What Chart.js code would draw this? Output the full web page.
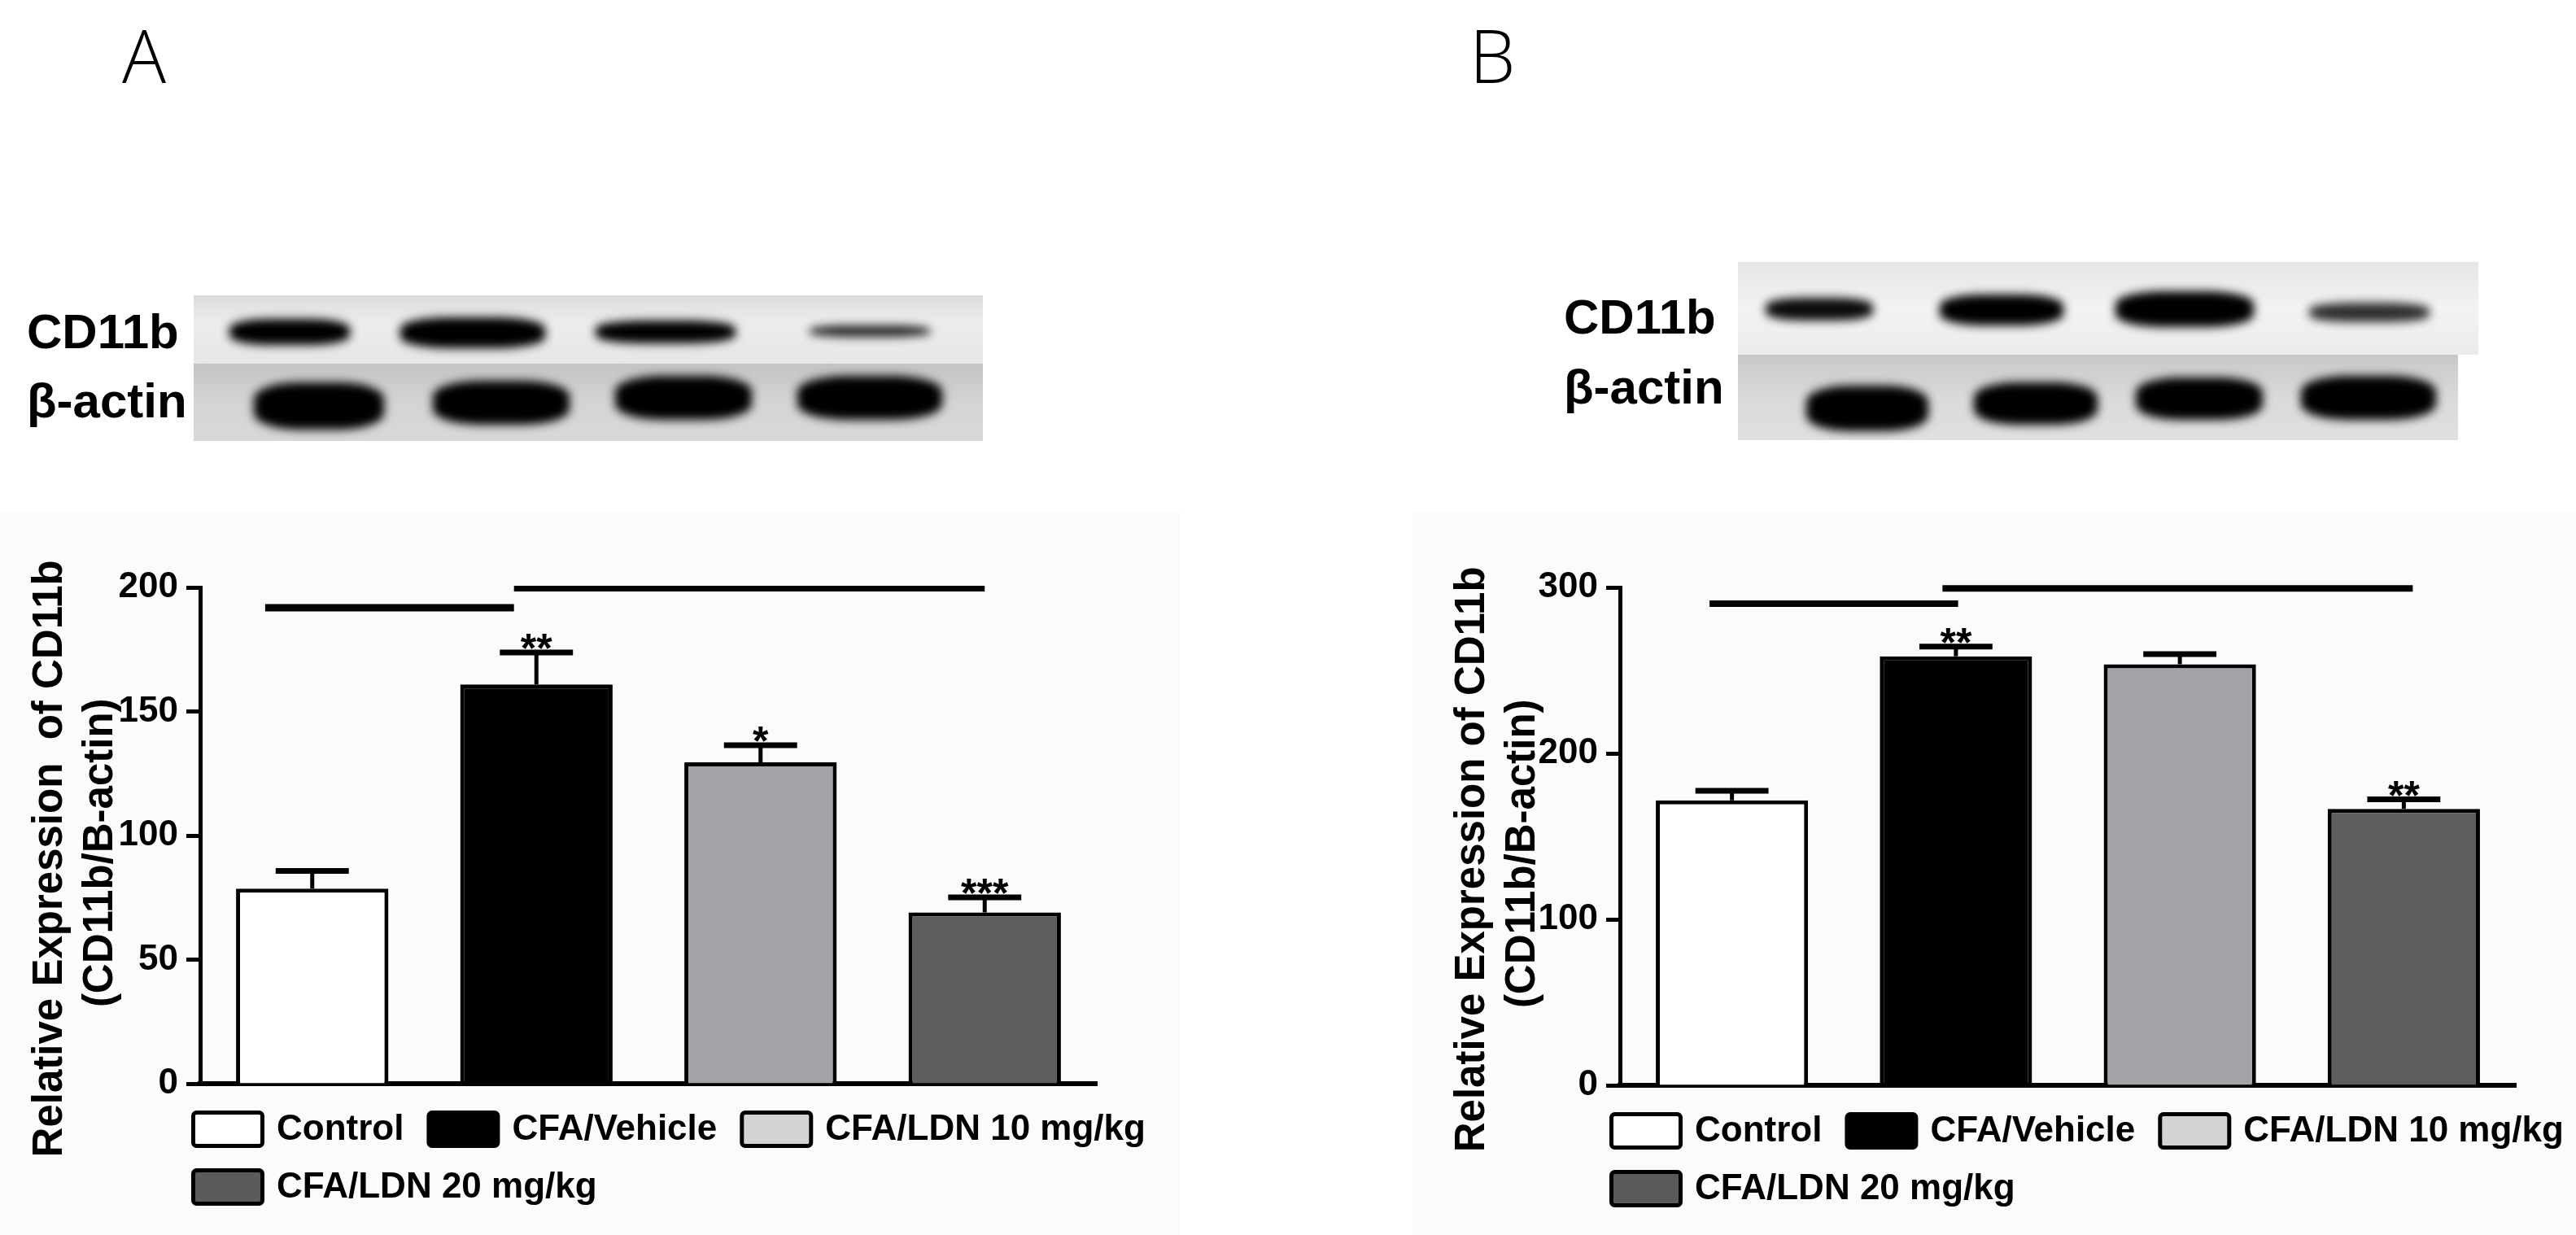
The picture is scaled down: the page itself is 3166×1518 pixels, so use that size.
<!DOCTYPE html>
<html><head><meta charset="utf-8">
<script src="https://cdn.jsdelivr.net/npm/chart.js@4.4.1/dist/chart.umd.min.js"></script>
<style>
html,body{margin:0;padding:0;background:#fff;}
body{width:3166px;height:1518px;position:relative;overflow:hidden;}
.letter{position:absolute;font-family:'Open Sans','Noto Sans',sans-serif;font-weight:300;font-size:90px;line-height:1;color:#000;}
.bg{position:absolute;background:#fbfbfb;}
.strip{position:absolute;overflow:hidden;}
.band{position:absolute;background:#000;border-radius:35%;filter:blur(6px);}
.blabel{position:absolute;font-family:'Liberation Sans',sans-serif;font-weight:bold;font-size:60px;line-height:1;color:#000;}
canvas{position:absolute;}
</style></head>
<body>
<div class="bg" style="left:0;top:630px;width:1450px;height:888px;"></div>
<div class="bg" style="left:1737px;top:628px;width:1429px;height:890px;"></div>
<div class="letter" style="left:150px;top:22px;">A</div>
<div class="letter" style="left:1806px;top:22px;">B</div>
<div id="blots"></div>
<canvas id="cA" width="1600" height="918" style="left:0;top:600px;"></canvas>
<canvas id="cB" width="1466" height="918" style="left:1700px;top:600px;"></canvas>
<script>
// ---------- data ----------
const categories = ['Control', 'CFA/Vehicle', 'CFA/LDN 10 mg/kg', 'CFA/LDN 20 mg/kg'];
const barColors = ['#ffffff', '#000000', '#a3a3a7', '#5e5e5e'];
const legendColors = ['#ffffff', '#000000', '#d4d4d4', '#5a5a5a'];

const titleA = ['Relative Expression  of CD11b    ', '(CD11b/B-actin)   '];
const meanA = [78.6, 160.9, 129.5, 69.0];
const semA = [7.1, 12.9, 6.9, 6.1];
const starsA = ['', '**', '*', '***'];
const ticksA = [0, 50, 100, 150, 200];
const sigFromA = [-0.21, 0.90];
const sigToA = [0.90, 3.00];
const sigYA = [191.8, 199.5];

const titleB = ['Relative Expression of CD11b    ', '(CD11b/B-actin)   '];
const meanB = [171.7, 258.5, 253.7, 166.6];
const semB = [5.7, 5.8, 6.1, 5.7];
const starsB = ['', '**', '', '**'];
const ticksB = [0, 100, 200, 300];
const sigFromB = [-0.10, 0.94];
const sigToB = [1.01, 3.04];
const sigYB = [290.2, 299.4];

const blotLabels = ['CD11b', 'β-actin'];

// ---------- western blot decoration ----------
function addBlot(strips, labels) {
  const host = document.getElementById('blots');
  strips.forEach(s => {
    const d = document.createElement('div');
    d.className = 'strip';
    d.style.cssText = `left:${s.x}px;top:${s.y}px;width:${s.w}px;height:${s.h}px;background:${s.bg};`;
    s.bands.forEach(b => {
      const e = document.createElement('div');
      e.className = 'band';
      e.style.cssText = `left:${b[0]-s.x}px;top:${b[1]-s.y}px;width:${b[2]}px;height:${b[3]}px;opacity:${b[4]};`;
      d.appendChild(e);
    });
    host.appendChild(d);
  });
  labels.forEach((l, i) => {
    const e = document.createElement('div');
    e.className = 'blabel';
    e.textContent = blotLabels[i];
    e.style.left = l[0] + 'px'; e.style.top = l[1] + 'px';
    host.appendChild(e);
  });
}
addBlot([
  {x:238,y:363,w:970,h:84,bg:'linear-gradient(#dcdcdc,#ececec 40%,#e6e6e6)',bands:[[282,392,148,32,1],[492,390,178,38,1],[732,394,172,28,1],[995,400,148,14,0.85]]},
  {x:238,y:447,w:970,h:95,bg:'linear-gradient(#c4c4c4,#d4d4d4 50%,#d8d8d8)',bands:[[312,470,160,58,1],[532,468,168,54,1],[756,462,168,54,1],[980,462,178,54,1]]}
], [[33,378],[33,463]]);
addBlot([
  {x:2136,y:322,w:910,h:114,bg:'linear-gradient(#e6e6e6,#f2f2f2 50%,#ececec)',bands:[[2170,366,132,28,0.95],[2384,362,152,38,1],[2600,358,170,44,1],[2838,372,148,24,0.8]]},
  {x:2136,y:436,w:885,h:105,bg:'linear-gradient(#c8c8c8,#dadada 50%,#e0e0e0)',bands:[[2220,474,150,56,1],[2426,470,152,52,1],[2625,464,156,52,1],[2828,462,166,54,1]]}
], [[1922,360],[1922,446]]);

// ---------- charts ----------
const FONT = "'Liberation Sans', Arial, sans-serif";

function marksPlugin(p) {
  return {
    id: 'marks',
    afterDatasetsDraw(chart) {
      const {ctx, scales: {x, y}} = chart;
      const meta = chart.getDatasetMeta(0);
      ctx.save();
      ctx.strokeStyle = '#000'; ctx.fillStyle = '#000';
      // error bars + significance stars
      p.mean.forEach((m, i) => {
        const bar = meta.data[i];
        const cx = x.getPixelForValue(i);
        const yb = y.getPixelForValue(m);
        const yt = y.getPixelForValue(m + p.sem[i]);
        const hw = bar.width * 0.24;
        ctx.lineWidth = 5;
        ctx.beginPath(); ctx.moveTo(cx, yb); ctx.lineTo(cx, yt); ctx.stroke();
        ctx.lineWidth = 7;
        ctx.beginPath(); ctx.moveTo(cx - hw, yt); ctx.lineTo(cx + hw, yt); ctx.stroke();
        if (p.stars[i]) {
          ctx.font = 'bold 50px ' + FONT;
          ctx.textAlign = 'center'; ctx.textBaseline = 'alphabetic';
          ctx.fillText(p.stars[i], cx, yt + 12);
        }
      });
      // significance lines (category units on the x scale)
      p.sigFrom.forEach((f, k) => {
        const yy = y.getPixelForValue(p.sigY[k]);
        ctx.lineWidth = p.sigW[k];
        ctx.beginPath();
        ctx.moveTo(x.getPixelForValue(f), yy);
        ctx.lineTo(x.getPixelForValue(p.sigTo[k]), yy);
        ctx.stroke();
      });
      ctx.restore();
    }
  };
}

function legendPlugin(p) {
  return {
    id: 'boxlegend',
    afterDraw(chart) {
      const {ctx, chartArea} = chart;
      ctx.save();
      ctx.font = 'bold 44px ' + FONT;
      ctx.textBaseline = 'middle';
      const x0 = chartArea.left - p.legShift;
      let xx = x0, row = 0;
      categories.forEach((c, i) => {
        const tw = ctx.measureText(c).width;
        const w = 90 + 15 + tw;
        if (xx > x0 && xx + w > x0 + 1300) { xx = x0; row++; }
        const cy = chartArea.bottom + 56 + row * 71;
        ctx.fillStyle = legendColors[i];
        ctx.beginPath(); ctx.roundRect(xx + 2.5, cy - 20.5, 85, 41, 4); ctx.fill();
        ctx.lineWidth = 5; ctx.strokeStyle = '#000'; ctx.stroke();
        ctx.fillStyle = '#000'; ctx.textAlign = 'left';
        ctx.fillText(c, xx + 90 + 15, cy + 1);
        xx += w + 28;
      });
      ctx.restore();
    }
  };
}

function makeChart(id, p) {
  return new Chart(document.getElementById(id), {
    type: 'bar',
    data: {
      labels: categories,
      datasets: [{
        data: p.mean, backgroundColor: barColors, borderColor: '#000',
        borderWidth: 5, borderSkipped: 'start', barPercentage: 0.68, categoryPercentage: 1
      }]
    },
    options: {
      responsive: false, animation: false, devicePixelRatio: 1,
      layout: {padding: {top: 122, bottom: p.padBottom, left: 0, right: p.padRight}},
      plugins: {legend: {display: false}, tooltip: {enabled: false}},
      scales: {
        x: {
          type: 'category', offset: true,
          grid: {display: false, drawTicks: false}, ticks: {display: false},
          border: {display: true, color: '#000', width: 6},
          afterFit(s) { s.height = 0; }
        },
        y: {
          min: 0, max: p.ticks[p.ticks.length - 1],
          afterBuildTicks(s) { s.ticks = p.ticks.map(v => ({value: v})); },
          grid: {display: true, drawOnChartArea: false, drawTicks: true, tickLength: 17, tickWidth: 5, tickColor: '#000', color: '#000'},
          border: {display: true, color: '#000', width: 5},
          ticks: {color: '#000', padding: 10, font: {family: FONT, weight: 'bold', size: 44}},
          title: {display: true, text: p.title, color: '#000',
            font: {family: FONT, weight: 'bold', size: 51, lineHeight: 1.22},
            padding: {top: p.titlePad, bottom: 0}},
          afterFit(s) { s.width = p.axisW; }
        }
      }
    },
    plugins: [marksPlugin(p), legendPlugin(p)]
  });
}

makeChart('cA', {mean: meanA, sem: semA, stars: starsA, ticks: ticksA, title: titleA,
  sigFrom: sigFromA, sigTo: sigToA, sigY: sigYA, sigW: [9, 7],
  axisW: 246, padRight: 252, padBottom: 186, titlePad: 31, legShift: 11});
makeChart('cB', {mean: meanB, sem: semB, stars: starsB, ticks: ticksB, title: titleB,
  sigFrom: sigFromB, sigTo: sigToB, sigY: sigYB, sigW: [8, 8],
  axisW: 291, padRight: 74, padBottom: 184, titlePad: 79, legShift: 13});
</script>
</body></html>
